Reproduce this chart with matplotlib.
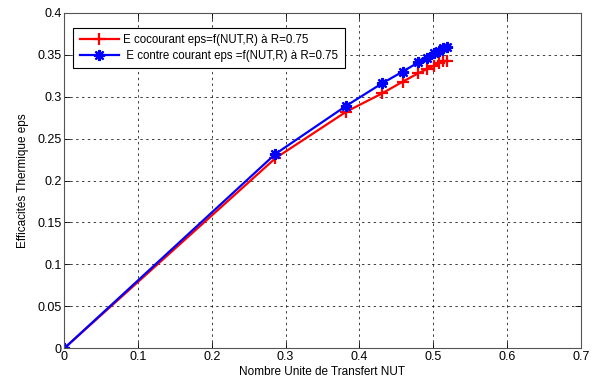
import numpy as np
import matplotlib
matplotlib.use("Agg")
from matplotlib import pyplot as plt

plt.rcParams['font.family'] = ['Liberation Sans', 'DejaVu Sans']

nut = [0.0, 0.286, 0.382, 0.431, 0.459, 0.480, 0.492, 0.501, 0.508, 0.514, 0.519]
eps_co = [0.0, 0.2265, 0.282, 0.304, 0.318, 0.328, 0.333, 0.337, 0.340, 0.342, 0.343]
eps_contre = [0.0, 0.2316, 0.289, 0.316, 0.330, 0.341, 0.346, 0.352, 0.355, 0.358, 0.359]

lab_co = "E cocourant eps=f(NUT,R) à R=0.75"
lab_contre = " E contre courant eps =f(NUT,R) à R=0.75"

if __name__ == "__main__":
    fig = plt.figure(figsize=(5.95, 3.83), dpi=100)
    ax = fig.add_axes([0.108, 0.0906, 0.868, 0.876])
    ax.plot(nut, eps_co, '-+', color='red', lw=1.6, ms=9, mew=1.6, label=lab_co)
    ax.plot(nut, eps_contre, '-', marker=(8, 2, 0), color='blue', lw=1.6, ms=8, mew=1.6,
            label=lab_contre)

    ax.set_xlim(0, 0.7)
    ax.set_ylim(0, 0.4)
    ax.set_xticks(np.arange(0, 0.71, 0.1))
    ax.set_yticks(np.arange(0, 0.41, 0.05))
    ax.set_xticklabels(["0", "0.1", "0.2", "0.3", "0.4", "0.5", "0.6", "0.7"])
    ax.set_yticklabels(["0", "0.05", "0.1", "0.15", "0.2", "0.25", "0.3", "0.35", "0.4"])
    ax.grid(True, color='black', linestyle=(0, (2.5, 3.5)), lw=0.7, alpha=0.75)
    ax.tick_params(direction='in', top=True, right=True, labelsize=9, length=4, width=0.6, pad=2)
    for s in ax.spines.values():
        s.set_color('#555555')
        s.set_linewidth(0.8)
    ax.set_xlabel("Nombre Unite de Transfert NUT", fontsize=8.5, labelpad=2)
    ax.set_ylabel("Efficacités Thermique eps", fontsize=8.5, labelpad=6)

    leg = ax.legend(loc='upper left', bbox_to_anchor=(0.0174, 0.955), borderaxespad=0,
                    fontsize=8.3, fancybox=False, framealpha=1,
                    edgecolor='black', borderpad=0.55, handlelength=3.4,
                    labelspacing=0.3, handletextpad=0.4)
    leg.get_frame().set_linewidth(0.8)

    fig.savefig("out.png", dpi=100)
